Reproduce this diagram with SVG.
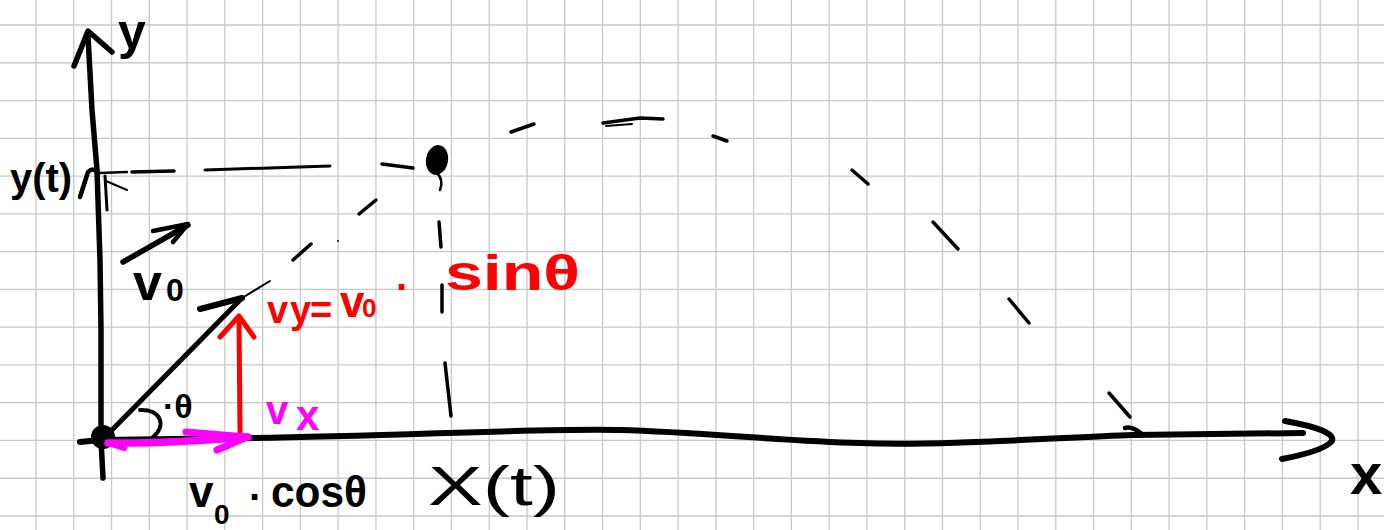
<svg xmlns="http://www.w3.org/2000/svg" width="1384" height="530" viewBox="0 0 1384 530">
<style>
.grid{stroke:#c8c8c8;stroke-width:1.3;fill:none}
.ink{stroke:#000;fill:none;stroke-linecap:round;stroke-linejoin:round}
.ax{stroke-width:5.5}
.dash{stroke-width:3.5}
.red{stroke:#ff0000;fill:none;stroke-width:5;stroke-linecap:round;stroke-linejoin:round}
.mag{stroke:#ff00ff;fill:none;stroke-width:7.5;stroke-linecap:round;stroke-linejoin:round}
.t{font-family:"Liberation Sans",Arial,sans-serif;font-weight:bold}
.tk{fill:#000}
.tr{fill:#ff0000}
.tm{fill:#ff00ff}
</style>
<rect width="1384" height="530" fill="#fff"/>
<g id="grid" class="grid">
<path d="M36,0V530M73.77,0V530M111.54,0V530M149.31,0V530M187.08,0V530M224.85,0V530M262.62,0V530M300.39,0V530M338.16,0V530M375.93,0V530M413.7,0V530M451.47,0V530M489.24,0V530M527.01,0V530M564.78,0V530M602.55,0V530M640.32,0V530M678.09,0V530M715.86,0V530M753.63,0V530M791.4,0V530M829.17,0V530M866.94,0V530M904.71,0V530M942.48,0V530M980.25,0V530M1018.02,0V530M1055.79,0V530M1093.56,0V530M1131.33,0V530M1169.1,0V530M1206.87,0V530M1244.64,0V530M1282.41,0V530M1320.18,0V530M1357.95,0V530"/>
<path d="M0,25H1384M0,62.77H1384M0,100.54H1384M0,138.31H1384M0,176.08H1384M0,213.85H1384M0,251.62H1384M0,289.39H1384M0,327.16H1384M0,364.93H1384M0,402.7H1384M0,440.47H1384M0,478.24H1384M0,516.01H1384"/>
</g>
<g id="connectors">
<g id="y-axis" class="ink ax">
<path d="M103,478 L101,440 L101,330 L100,260 L97,170 L92,110 L88,36"/>
<path d="M74,66 L88,31 L112,52"/>
<path d="M80,197 L88,172 Q93,167 97,172" stroke-width="4.5"/>
<path d="M99,173 L127,172" stroke-width="2.5"/>
<path d="M106,181 L127,190" stroke-width="2"/>
<path d="M105,176 L107,210" stroke-width="3"/>
</g>
<g id="x-axis" class="ink ax">
<path d="M80,442 L100,440 L250,438 C400,436 540,428 620,430 C700,432 780,441 860,443 C940,446 1050,438 1133,435 L1303,433" stroke-width="6"/>
<path d="M1285,421 Q1336,430 1332,441 Q1324,451 1282,459" stroke-width="6"/>
</g>
<g id="guide-dashes" class="ink dash">
<path d="M132,172 L174,171"/>
<path d="M205,170 L330,166" stroke-width="3"/>
<path d="M382,164 L413,168"/>
<path d="M439,222 L441,247"/>
<path d="M442,285 L442,312"/>
<path d="M445,363 L451,416"/>
</g>
<g id="trajectory" class="ink dash">
<path d="M293,260 L311,244"/>
<circle cx="338" cy="241" r="1" fill="#000" stroke="none"/>
<path d="M359,214 L376,200"/>
<path d="M511,132 L534,124"/>
<path d="M603,123 L640,118 L663,119"/>
<path d="M606,126 L632,124" stroke-width="2"/>
<path d="M713,136 L727,141"/>
<path d="M852,170 L868,184"/>
<path d="M933,222 L958,249"/>
<path d="M1009,299 L1029,323"/>
<path d="M1109,393 L1130,417"/>
<path d="M1125,428 Q1132,426 1142,434" stroke-width="4.5"/>
</g>
<g id="v0-arrow" class="ink">
<path d="M108,434 L242,298" stroke-width="5"/>
<path d="M200,309 L242,298" stroke-width="6"/>
<path d="M242,298 L270,281" stroke-width="2"/>
</g>
<g id="angle-arc" class="ink">
<path d="M140,410 C160,409 168,425 152,438" stroke-width="4"/>
</g>
<g id="vy-arrow" class="red">
<path d="M240,432 L239,318"/>
<path d="M220,337 L239,316 L254,337"/>
</g>
<g id="origin" class="ink">
<circle cx="103" cy="437" r="12" fill="#000" stroke="none"/>
</g>
<g id="vx-arrow" class="mag">
<path d="M108,443 C160,444 210,440 248,437"/>
<path d="M186,432 L247,437 L217,450" stroke-width="7"/>
<path d="M108,443 L124,448" stroke-width="6"/>
</g>
<g id="point" class="ink">
<ellipse cx="437" cy="160" rx="11" ry="15" transform="rotate(10 437 160)" fill="#000" stroke="none"/>
<path d="M437,173 Q444,180 440,190" stroke-width="2.5"/>
</g>
<g id="v0-vector-arrow" class="ink">
<path d="M123,262 L188,225" stroke-width="5.5"/>
<path d="M153,231 L188,224 L173,242" stroke-width="4.5"/>
</g>
</g>
<g id="label-y"><text class="t tk" x="118" y="49" font-size="50">y</text></g>
<g id="label-yt"><text class="t tk" x="10" y="192" font-size="40" textLength="62" lengthAdjust="spacingAndGlyphs">y(t)</text></g>
<g id="label-v0"><text class="t tk" x="133" y="300" font-size="52">v<tspan font-size="32" x="166" y="301">0</tspan></text></g>
<g id="label-theta"><text class="t tk" x="163" y="418" font-size="34">·θ</text></g>
<g id="label-vx"><text class="t tm" x="266" y="424" font-size="40">v<tspan x="296" y="430" font-size="42">x</tspan></text></g>
<g id="label-vy"><text class="t tr" x="267" y="323" font-size="38">v<tspan x="290" y="323">y</tspan><tspan x="310" y="323">=</tspan><tspan x="340" y="317" font-size="44">v</tspan><tspan x="362" y="317" font-size="26">0</tspan><tspan x="396" y="301" font-size="40">·</tspan><tspan x="445" y="290" font-size="50" textLength="135" lengthAdjust="spacingAndGlyphs">sinθ</tspan></text></g>
<g id="label-cos"><text class="t tk" x="189" y="507" font-size="44">v<tspan x="214" y="524" font-size="28">0</tspan><tspan x="249" y="511" font-size="40">·</tspan><tspan x="271" y="507" font-size="44" textLength="96" lengthAdjust="spacingAndGlyphs">cosθ</tspan></text></g>
<g id="label-xt"><text class="t tk" x="428" y="505" font-size="56" font-weight="normal" style="font-weight:normal" textLength="132" lengthAdjust="spacingAndGlyphs">X(t)</text></g>
<g id="label-x"><text class="t tk" x="1350" y="494" font-size="58">x</text></g>
</svg>
